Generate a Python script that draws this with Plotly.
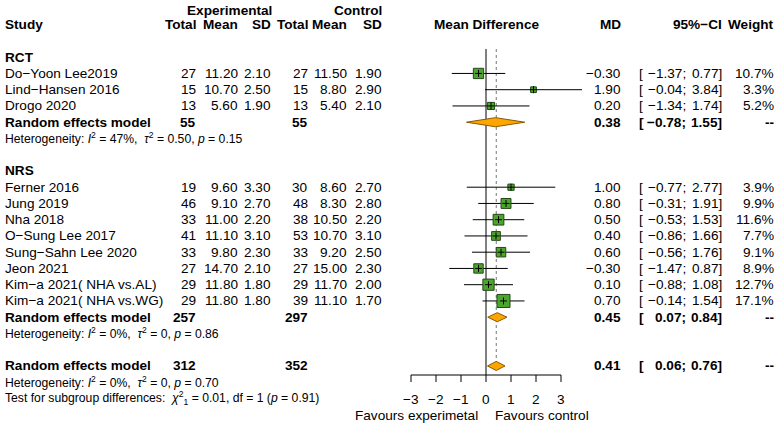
import numpy as np
import plotly.graph_objects as go

# ---- data ----
rct_study = ["Do−Yoon Lee2019", "Lind−Hansen 2016", "Drogo 2020"]
rct_exp_n = [27, 15, 13]
rct_exp_mean = [11.20, 10.70, 5.60]
rct_exp_sd = [2.10, 2.50, 1.90]
rct_ctl_n = [27, 15, 13]
rct_ctl_mean = [11.50, 8.80, 5.40]
rct_ctl_sd = [1.90, 2.90, 2.10]
rct_md = [-0.30, 1.90, 0.20]
rct_lo = [-1.37, -0.04, -1.34]
rct_hi = [0.77, 3.84, 1.74]
rct_w = [10.7, 3.3, 5.2]
rct_re = [0.38, -0.78, 1.55]
rct_re_n = [55, 55]
rct_het = ["47%", "0.50", "0.15"]

nrs_study = ["Ferner 2016", "Jung 2019", "Nha 2018", "O−Sung Lee 2017",
             "Sung−Sahn Lee 2020", "Jeon 2021", "Kim−a 2021( NHA vs.AL)",
             "Kim−a 2021( NHA vs.WG)"]
nrs_exp_n = [19, 46, 33, 41, 33, 27, 29, 29]
nrs_exp_mean = [9.60, 9.10, 11.00, 11.10, 9.80, 14.70, 11.80, 11.80]
nrs_exp_sd = [3.30, 2.70, 2.20, 3.10, 2.30, 2.10, 1.80, 1.80]
nrs_ctl_n = [30, 48, 38, 53, 33, 27, 29, 39]
nrs_ctl_mean = [8.60, 8.30, 10.50, 10.70, 9.20, 15.00, 11.70, 11.10]
nrs_ctl_sd = [2.70, 2.80, 2.20, 3.10, 2.50, 2.30, 2.00, 1.70]
nrs_md = [1.00, 0.80, 0.50, 0.40, 0.60, -0.30, 0.10, 0.70]
nrs_lo = [-0.77, -0.31, -0.53, -0.86, -0.56, -1.47, -0.88, -0.14]
nrs_hi = [2.77, 1.91, 1.53, 1.66, 1.76, 0.87, 1.08, 1.54]
nrs_w = [3.9, 9.9, 11.6, 7.7, 9.1, 8.9, 12.7, 17.1]
nrs_re = [0.45, 0.07, 0.84]
nrs_re_n = [257, 297]
nrs_het = ["0%", "0", "0.86"]

all_re = [0.41, 0.06, 0.76]
all_re_n = [312, 352]
all_het = ["0%", "0", "0.70"]
subgroup_test = ["0.01", "1", "0.91"]

axis_ticks = [-3, -2, -1, 0, 1, 2, 3]

# ---- layout helpers (pixel geometry of the page) ----
W, H = 777, 426
ROW0, ROWH = 24.7, 16.25      # y pixel of row 0 and row height
X0, UNIT = 486, 25            # x pixel of MD = 0 and pixels per unit
FONT = "Liberation Sans, Arial, sans-serif"
FS, FS_SMALL = 13.6, 12.2
GREEN, GREEN_EDGE = "#4DA62C", "#24461a"
ORANGE, ORANGE_EDGE = "#FFA500", "#8a5a00"


def xd(px):
    return (px - X0) / UNIT


def num(v, fmt="{:.2f}"):
    return fmt.format(v).replace("-", "−")


ann = []


def txt(px, row, s, anchor="right", bold=False, size=FS):
    if bold:
        s = f"<b>{s}</b>"
    ann.append(dict(x=xd(px), y=row, xref="x", yref="y", text=s,
                    showarrow=False, xanchor=anchor, yanchor="middle",
                    font=dict(family=FONT, size=size, color="black")))


def ci_text(row, lo, hi, bold=False):
    txt(637, row, "[", anchor="left", bold=bold)
    txt(688, row, num(lo) + ";", bold=bold)
    txt(724, row, num(hi) + "]", bold=bold)


def het_text(row, het):
    txt(3, row, f"Heterogeneity: <i>I</i><sup>2</sup> = {het[0]},  "
                f"<i>τ</i><sup>2</sup> = {het[1]}, <i>p</i> = {het[2]}",
        anchor="left", size=FS_SMALL)


# header
txt(229, -0.85, "Experimental", anchor="center", bold=True)
txt(384, -0.85, "Control", bold=True)
for px, s, a in [(3, "Study", "left"), (198, "Total", "right"), (240, "Mean", "right"),
                 (273, "SD", "right"), (310, "Total", "right"), (349, "Mean", "right"),
                 (384, "SD", "right"), (486, "Mean Difference", "center"),
                 (623, "MD", "right"), (724, "95%−CI", "right"), (776, "Weight", "right")]:
    txt(px, 0, s, anchor=a, bold=True)

line_x, line_y = [], []
sq_x, sq_y, sq_s = [], [], []
diamonds = []


def group(label, label_row, study, en, em, es, cn, cm, cs, md, lo, hi, w,
          re, re_n, het):
    txt(3, label_row, label, anchor="left", bold=True)
    rows = [label_row + 1 + i for i in range(len(study))]
    for i, r in enumerate(rows):
        txt(3, r, study[i], anchor="left")
        txt(198, r, str(en[i]))
        txt(240, r, num(em[i]))
        txt(273, r, num(es[i]))
        txt(310, r, str(cn[i]))
        txt(349, r, num(cm[i]))
        txt(384, r, num(cs[i]))
        txt(623, r, num(md[i]))
        ci_text(r, lo[i], hi[i])
        txt(776, r, f"{w[i]:.1f}%")
        line_x.extend([lo[i], hi[i], None])
        line_y.extend([r, r, None])
        sq_x.append(md[i])
        sq_y.append(r)
        sq_s.append(3.15 * np.sqrt(w[i]))
    r = rows[-1] + 1
    txt(3, r, "Random effects model", anchor="left", bold=True)
    txt(198, r, str(re_n[0]), bold=True)
    txt(310, r, str(re_n[1]), bold=True)
    txt(623, r, num(re[0]), bold=True)
    ci_text(r, re[1], re[2], bold=True)
    txt(776, r, "--", bold=True)
    diamonds.append((re, r))
    het_text(r + 1, het)


group("RCT", 2, rct_study, rct_exp_n, rct_exp_mean, rct_exp_sd, rct_ctl_n,
      rct_ctl_mean, rct_ctl_sd, rct_md, rct_lo, rct_hi, rct_w, rct_re, rct_re_n, rct_het)
group("NRS", 9, nrs_study, nrs_exp_n, nrs_exp_mean, nrs_exp_sd, nrs_ctl_n,
      nrs_ctl_mean, nrs_ctl_sd, nrs_md, nrs_lo, nrs_hi, nrs_w, nrs_re, nrs_re_n, nrs_het)

# overall
r_all = 21
txt(3, r_all, "Random effects model", anchor="left", bold=True)
txt(198, r_all, str(all_re_n[0]), bold=True)
txt(310, r_all, str(all_re_n[1]), bold=True)
txt(623, r_all, num(all_re[0]), bold=True)
ci_text(r_all, all_re[1], all_re[2], bold=True)
txt(776, r_all, "--", bold=True)
diamonds.append((all_re, r_all))
het_text(22, all_het)
txt(3, 23, f"Test for subgroup differences:  <i>χ</i><sup>2</sup><sub>1</sub> = {subgroup_test[0]}, "
           f"df = {subgroup_test[1]} (<i>p</i> = {subgroup_test[2]})", anchor="left", size=FS_SMALL)

axis_row = (375 - ROW0) / ROWH
top_row = (49 - ROW0) / ROWH

fig = go.Figure()

# reference lines
fig.add_trace(go.Scatter(x=[0, 0], y=[top_row, axis_row], mode="lines",
                         line=dict(color="black", width=1), hoverinfo="skip"))
fig.add_trace(go.Scatter(x=[all_re[0], all_re[0]], y=[top_row, r_all], mode="lines",
                         line=dict(color="#777777", width=1, dash="dot"), hoverinfo="skip"))

# confidence intervals and study squares
fig.add_trace(go.Scatter(x=line_x, y=line_y, mode="lines",
                         line=dict(color="black", width=1), hoverinfo="skip"))
fig.add_trace(go.Scatter(x=sq_x, y=sq_y, mode="markers",
                         marker=dict(symbol="square", size=sq_s, color=GREEN, opacity=1,
                                     line=dict(color=GREEN_EDGE, width=1))))
fig.add_trace(go.Scatter(x=sq_x, y=sq_y, mode="markers",
                         marker=dict(symbol="cross-thin", size=5, opacity=1,
                                     line=dict(color="black", width=1))))

# pooled diamonds
h = 0.28
for (est, lo, hi), r in diamonds:
    fig.add_trace(go.Scatter(x=[lo, est, hi, est, lo], y=[r, r - h, r, r + h, r],
                             mode="lines", fill="toself", fillcolor=ORANGE,
                             line=dict(color=ORANGE_EDGE, width=1), hoverinfo="skip"))

# x axis of the forest panel
tick_len = 7 / ROWH
ax_x = [axis_ticks[0], axis_ticks[-1], None]
ax_y = [axis_row, axis_row, None]
for t in axis_ticks:
    ax_x.extend([t, t, None])
    ax_y.extend([axis_row, axis_row + tick_len, None])
fig.add_trace(go.Scatter(x=ax_x, y=ax_y, mode="lines",
                         line=dict(color="black", width=1), hoverinfo="skip"))
for t in axis_ticks:
    txt(X0 + UNIT * t, (399 - ROW0) / ROWH, num(t, "{:d}"), anchor="center")
fav_row = (415 - ROW0) / ROWH
txt(480, fav_row, "Favours experimetal")
txt(493, fav_row, "Favours control", anchor="left")

fig.update_layout(
    width=W, height=H, margin=dict(l=0, r=0, t=0, b=0),
    paper_bgcolor="white", plot_bgcolor="white", showlegend=False,
    annotations=ann,
    xaxis=dict(range=[xd(0), xd(W)], visible=False, fixedrange=True),
    yaxis=dict(range=[(H - ROW0) / ROWH, -ROW0 / ROWH], visible=False, fixedrange=True),
)

# the page body has a default 8px margin; drop it so the figure fills the window
fig.write_html("out.html", config={"displayModeBar": False},
               post_script="document.body.style.margin='0px';")
